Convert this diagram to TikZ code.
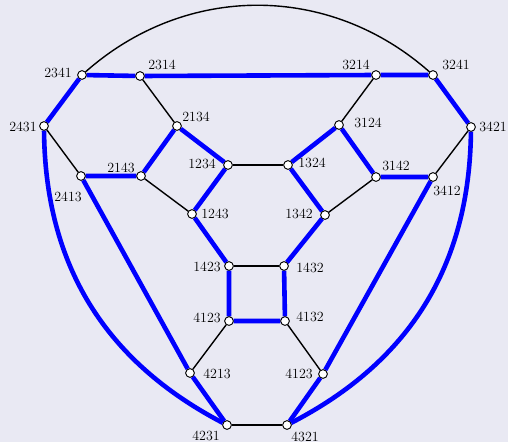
\documentclass[tikz,border=0pt]{standalone}
\begin{document}
\begin{tikzpicture}[x=1pt,y=1pt,
  vtx/.style={circle,draw=black,fill=white,line width=0.8pt,minimum size=8.6pt,inner sep=0pt},
  lbl/.style={inner sep=0pt,font=\fontsize{14}{16}\selectfont},
  be/.style={draw=blue,line width=4.6pt},
  ke/.style={draw=black,line width=1.4pt}]
\fill[fill={rgb,255:red,233;green,233;blue,243}] (0,0) rectangle (508,-442);
\useasboundingbox (0,0) rectangle (508,-442);
% vertices
\node[vtx] (n2341) at (82,-75) {};
\node[vtx] (n2314) at (140,-76) {};
\node[vtx] (n3214) at (376,-75) {};
\node[vtx] (n3241) at (433,-75) {};
\node[vtx] (n2431) at (44,-126) {};
\node[vtx] (n3421) at (471,-127) {};
\node[vtx] (n2134) at (177,-126) {};
\node[vtx] (n3124) at (339,-125) {};
\node[vtx] (n2413) at (81,-176) {};
\node[vtx] (n2143) at (141,-176) {};
\node[vtx] (n3142) at (376,-177) {};
\node[vtx] (n3412) at (433,-177) {};
\node[vtx] (n1234) at (228,-165) {};
\node[vtx] (n1324) at (288,-165) {};
\node[vtx] (n1243) at (192,-214) {};
\node[vtx] (n1342) at (325,-215) {};
\node[vtx] (n1423) at (229,-266) {};
\node[vtx] (n1432) at (284,-266) {};
\node[vtx] (n4123) at (229,-321) {};
\node[vtx] (n4132) at (285,-321) {};
\node[vtx] (n4213) at (190,-373) {};
\node[vtx] (n4312) at (323,-374) {};
\node[vtx] (n4231) at (227,-425) {};
\node[vtx] (n4321) at (287,-425) {};
% edges
\path[ke] (n2341) to[bend left=41.5] (n3241);
\path[ke] (n2314) -- (n2134);
\path[ke] (n2431) -- (n2413);
\path[ke] (n2143) -- (n1243);
\path[ke] (n1234) -- (n1324);
\path[ke] (n3214) -- (n3124);
\path[ke] (n3421) -- (n3412);
\path[ke] (n3142) -- (n1342);
\path[ke] (n1423) -- (n1432);
\path[ke] (n4123) -- (n4213);
\path[ke] (n4132) -- (n4312);
\path[ke] (n4231) -- (n4321);
\path[be] (n2341) -- (n2314) -- (n3214) -- (n3241) -- (n3421);
\path[be] (n2341) -- (n2431);
\path[be] (n2431) to[bend right=31] (n4231);
\path[be] (n3421) to[bend left=31] (n4321);
\path[be] (n2413) -- (n2143) -- (n2134) -- (n1234) -- (n1243) -- (n1423) -- (n4123) -- (n4132) -- (n1432) -- (n1342) -- (n1324) -- (n3124) -- (n3142) -- (n3412) -- (n4312) -- (n4321);
\path[be] (n2413) -- (n4213) -- (n4231);
% redraw vertices on top
\foreach \v in {2341,2314,3214,3241,2431,3421,2134,3124,2413,2143,3142,3412,1234,1324,1243,1342,1423,1432,4123,4132,4213,4312,4231,4321}
  \node[vtx] at (n\v) {};
% labels
\node[lbl] (l2341) at (58,-73) {2341};
\node[lbl] (l2314) at (162,-65) {2314};
\node[lbl] (l2431) at (23,-127) {2431};
\node[lbl] (l2134) at (196,-117) {2134};
\node[lbl] (l2143) at (121,-168) {2143};
\node[lbl] (l2413) at (68,-197) {2413};
\node[lbl] (l1234) at (202,-164) {1234};
\node[lbl] (l1243) at (215,-214) {1243};
\node[lbl] (l1324) at (312,-163) {1324};
\node[lbl] (l1342) at (299,-214) {1342};
\node[lbl] (l1423) at (207,-267) {1423};
\node[lbl] (l1432) at (310,-268) {1432};
\node[lbl] (l3214) at (356,-65) {3214};
\node[lbl] (l3241) at (456,-65) {3241};
\node[lbl] (l3124) at (368,-123) {3124};
\node[lbl] (l3421) at (493,-127) {3421};
\node[lbl] (l3142) at (396,-166) {3142};
\node[lbl] (l3412) at (447,-191) {3412};
\node[lbl] (l4123) at (207,-318) {4123};
\node[lbl] (l4213) at (217,-374) {4213};
\node[lbl] (l4231) at (206,-436) {4231};
\node[lbl] (l4132) at (310,-317) {4132};
\node[lbl] (l4312) at (299,-374) {4123};
\node[lbl] (l4321) at (305,-437) {4321};
\end{tikzpicture}
\end{document}
